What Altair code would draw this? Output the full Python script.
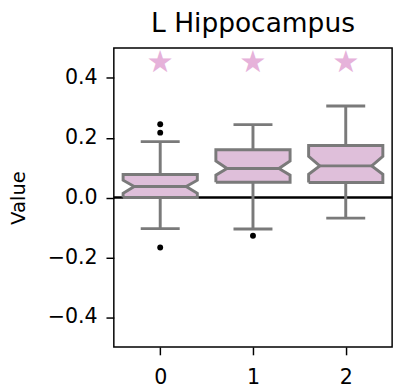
import altair as alt
import pandas as pd

# ---- data ----
cats = [0, 1, 2]
q1 = [0.000, 0.051, 0.050]
median = [0.037, 0.097, 0.106]
q3 = [0.077, 0.160, 0.174]
notch_lo = [0.014, 0.075, 0.078]
notch_hi = [0.058, 0.122, 0.138]
whis_lo = [-0.104, -0.105, -0.069]
whis_hi = [0.187, 0.244, 0.306]
outlier_cat = [0, 0, 0, 1]
outlier_val = [0.245, 0.217, -0.167, -0.128]
star_val = [0.45, 0.45, 0.45]
y_ticks = [-0.4, -0.2, 0.0, 0.2, 0.4]

# ---- style constants ----
HALF_W = 0.4
NOTCH_W = 0.28
CAP_W = 0.21
FILL = "#dfbfda"
EDGE = "#7a7a7a"
STAR = "#e6b2da"
FONT = "DejaVu Sans"

area_rows, poly_rows, seg_rows = [], [], []
for i, c in enumerate(cats):
    levels = [(q1[i], HALF_W), (notch_lo[i], HALF_W), (median[i], NOTCH_W),
              (notch_hi[i], HALF_W), (q3[i], HALF_W)]
    for y, w in levels:
        area_rows.append({"box": c, "y": y, "x": c - w, "x2": c + w})
    pts = [(c - w, y) for y, w in levels] + [(c + w, y) for y, w in reversed(levels)]
    pts.append(pts[0])
    for k, (x, y) in enumerate(pts):
        poly_rows.append({"box": c, "order": k, "x": x, "y": y})
    seg_rows.append({"x": c - NOTCH_W, "x2": c + NOTCH_W, "y": median[i], "y2": median[i]})
    seg_rows.append({"x": c, "x2": c, "y": q3[i], "y2": whis_hi[i]})
    seg_rows.append({"x": c, "x2": c, "y": q1[i], "y2": whis_lo[i]})
    seg_rows.append({"x": c - CAP_W, "x2": c + CAP_W, "y": whis_hi[i], "y2": whis_hi[i]})
    seg_rows.append({"x": c - CAP_W, "x2": c + CAP_W, "y": whis_lo[i], "y2": whis_lo[i]})

area_df = pd.DataFrame(area_rows)
poly_df = pd.DataFrame(poly_rows)
seg_df = pd.DataFrame(seg_rows)
out_df = pd.DataFrame({"x": outlier_cat, "y": outlier_val})
star_df = pd.DataFrame({"x": cats, "y": star_val})
zero_df = pd.DataFrame({"x": [-0.5], "x2": [2.5], "y": [0.0], "y2": [0.0]})

xscale = alt.Scale(domain=[-0.5, 2.5], nice=False, zero=False)
yscale = alt.Scale(domain=[-0.5, 0.5], nice=False, zero=False)
xaxis = alt.Axis(values=cats, format="d", title=None)
yaxis = alt.Axis(values=y_ticks, format=".1f", title="Value")

X = alt.X("x:Q", scale=xscale, axis=xaxis)
Y = alt.Y("y:Q", scale=yscale, axis=yaxis)

zero = alt.Chart(zero_df).mark_rule(color="black", strokeWidth=2.5).encode(
    x=X, x2="x2:Q", y=Y
)
segs = alt.Chart(seg_df).mark_rule(color=EDGE, strokeWidth=3).encode(
    x=X, x2="x2:Q", y=Y, y2="y2:Q"
)
fill = alt.Chart(area_df).mark_area(orient="horizontal", color=FILL).encode(
    x=X, x2="x2:Q", y=Y, detail="box:N"
)
outline = alt.Chart(poly_df).mark_line(color=EDGE, strokeWidth=3).encode(
    x=X, y=Y, order="order:Q", detail="box:N"
)
outliers = alt.Chart(out_df).mark_circle(color="black", size=36, opacity=1).encode(
    x=X, y=Y
)
stars = alt.Chart(star_df).mark_text(text="★", font=FONT, fontSize=31, color=STAR,
                                     baseline="middle", align="center").encode(
    x=X, y=Y
)

chart = alt.layer(zero, fill, outline, segs, outliers, stars).properties(
    width=284,
    height=305,
    title=alt.TitleParams("L Hippocampus", fontSize=27, font=FONT, fontWeight="normal",
                          color="black", offset=10, anchor="middle"),
    autosize=alt.AutoSizeParams(type="none"),
    padding={"left": 108, "top": 37, "right": 6, "bottom": 40},
).configure_view(
    stroke="black", strokeWidth=1.5
).configure_axis(
    domain=False, grid=False, tickSize=8, tickWidth=1.5, tickColor="black",
    labelFontSize=21, labelColor="black", labelFont=FONT,
    titleFont=FONT, titleFontSize=20, titleFontWeight="normal", titleColor="black",
).configure_axisX(labelPadding=12).configure_axisY(labelPadding=9, titlePadding=19)

chart.save("out.html", embed_options={"renderer": "svg", "actions": False})
